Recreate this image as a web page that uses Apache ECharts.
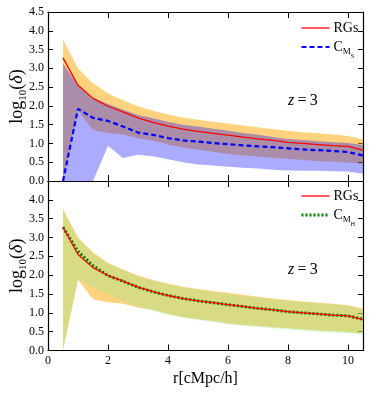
<!DOCTYPE html>
<html>
<head>
<meta charset="utf-8">
<script src="https://cdn.jsdelivr.net/npm/echarts@6/dist/echarts.min.js"></script>
<style>
  html, body { margin: 0; padding: 0; background: #fff; }
  #chart { width: 371px; height: 394px; }
</style>
</head>
<body>
<div id="chart"></div>
<script>
// radius bins, cMpc/h
const rBins = [0.5, 1.0, 1.5, 2.0, 2.5, 3.0, 3.5, 4.0, 4.5, 5.0, 5.5, 6.0, 6.5, 7.0, 7.5, 8.0, 8.5, 9.0, 9.5, 10.0, 10.5];

// RGs: mean and spread
const rgMean  = [3.28, 2.55, 2.20, 1.99, 1.84, 1.68, 1.56, 1.46, 1.38, 1.32, 1.27, 1.22, 1.17, 1.12, 1.08, 1.03, 1.00, 0.97, 0.94, 0.92, 0.82];
const rgUpper = [3.76, 3.00, 2.60, 2.33, 2.15, 1.99, 1.87, 1.77, 1.69, 1.63, 1.58, 1.53, 1.48, 1.43, 1.38, 1.34, 1.30, 1.27, 1.24, 1.20, 1.11];
const rgLower = [0.00, 1.88, 1.36, 1.28, 1.24, 1.14, 1.08, 0.97, 0.89, 0.83, 0.78, 0.72, 0.68, 0.65, 0.62, 0.59, 0.56, 0.53, 0.51, 0.49, 0.45];

// C_MS (top panel)
const msMean  = [0.00, 1.92, 1.68, 1.60, 1.45, 1.29, 1.23, 1.14, 1.08, 1.05, 1.01, 0.98, 0.95, 0.92, 0.90, 0.87, 0.84, 0.82, 0.80, 0.77, 0.68];
const msUpper = [3.12, 2.56, 2.22, 2.05, 1.90, 1.76, 1.67, 1.58, 1.50, 1.45, 1.39, 1.34, 1.28, 1.23, 1.17, 1.12, 1.09, 1.06, 1.03, 1.01, 0.96];
const msLower = [0.00, 0.00, 0.00, 0.94, 0.61, 0.70, 0.66, 0.58, 0.50, 0.44, 0.41, 0.38, 0.35, 0.33, 0.30, 0.28, 0.27, 0.27, 0.26, 0.25, 0.19];

// C_MH (bottom panel)
const mhMean  = [3.27, 2.63, 2.25, 1.99, 1.84, 1.68, 1.56, 1.46, 1.38, 1.32, 1.27, 1.22, 1.17, 1.12, 1.08, 1.03, 1.00, 0.97, 0.94, 0.92, 0.83];
const mhUpper = [3.72, 2.96, 2.57, 2.31, 2.13, 1.97, 1.85, 1.75, 1.67, 1.61, 1.55, 1.50, 1.45, 1.40, 1.36, 1.32, 1.28, 1.25, 1.22, 1.18, 1.09];
const mhLower = [0.00, 1.87, 1.68, 1.50, 1.32, 1.17, 1.05, 0.95, 0.87, 0.81, 0.75, 0.70, 0.66, 0.62, 0.59, 0.56, 0.53, 0.50, 0.48, 0.46, 0.42];

const xTicks = [0, 2, 4, 6, 8, 10];
const yTicks = [0.0, 0.5, 1.0, 1.5, 2.0, 2.5, 3.0, 3.5, 4.0, 4.5];

const FONT = 'Liberation Serif';
const pairs = (ys) => rBins.map((x, i) => [x, ys[i]]);

// shaded band drawn as one polygon through the axes' coord()
function band(lo, hi, color, opacity, gi) {
  return {
    type: 'custom', xAxisIndex: gi * 2, yAxisIndex: gi * 2, silent: true, clip: true,
    data: rBins.map((x, i) => [x, lo[i], hi[i]]),
    encode: { x: 0, y: [1, 2] },
    renderItem: (params, api) => {
      if (params.dataIndex !== 0) return null;
      const top = rBins.map((x, i) => api.coord([x, hi[i]]));
      const bot = rBins.map((x, i) => api.coord([x, lo[i]])).reverse();
      return {
        type: 'polygon',
        shape: { points: top.concat(bot) },
        style: { fill: color, opacity: opacity }
      };
    }
  };
}

function xAx(gi, pos, labels) {
  return {
    type: 'value', gridIndex: gi, position: pos, min: 0, max: 10.5, interval: 2,
    axisLine: { show: true, onZero: false, lineStyle: { color: '#000', width: 1.2 } },
    axisTick: { show: true, inside: true, length: 6, lineStyle: { color: '#000' } },
    axisLabel: {
      show: labels, color: '#000', fontFamily: FONT, fontSize: 12, margin: 4,
      formatter: v => xTicks.includes(v) ? String(v) : ''
    },
    splitLine: { show: false },
    name: labels ? 'r[cMpc/h]' : '', nameLocation: 'middle', nameGap: 20, nameMoveOverlap: false,
    nameTextStyle: { color: '#000', fontFamily: FONT, fontSize: 16 }
  };
}

function yAx(gi, pos, labels, hideTop) {
  return {
    type: 'value', gridIndex: gi, position: pos, min: 0, max: 4.5, interval: 0.5,
    axisLine: { show: true, onZero: false, lineStyle: { color: '#000', width: 1.2 } },
    axisTick: { show: true, inside: true, length: 5, lineStyle: { color: '#000' } },
    axisLabel: {
      show: labels, color: '#000', fontFamily: FONT, fontSize: 12, margin: 4,
      formatter: v => (hideTop && v > 4.4) || !yTicks.includes(v) ? '' : v.toFixed(1)
    },
    splitLine: { show: false },
    name: labels ? '{a|log}{b|10}{a|(}{d|δ}{a|)}' : '', nameLocation: 'middle', nameGap: 22, nameMoveOverlap: false,
    nameTextStyle: {
      color: '#000', fontFamily: FONT,
      rich: {
        a: { fontSize: 18, lineHeight: 18, verticalAlign: 'top', fontFamily: FONT, color: '#000' },
        b: { fontSize: 11, lineHeight: 11, padding: [10, 0, 0, 0], verticalAlign: 'top', fontFamily: FONT, color: '#000' },
        d: { fontSize: 18, lineHeight: 18, verticalAlign: 'top', fontStyle: 'italic', fontFamily: FONT, color: '#000' }
      }
    }
  };
}

// legend keys: short sample line + label, drawn as graphics
const labRich = {
  c: { fontSize: 14, lineHeight: 14, verticalAlign: 'top', fontFamily: FONT, fill: '#000' },
  m: { fontSize: 9, lineHeight: 9, padding: [7, 0, 0, 0], verticalAlign: 'top', fontFamily: FONT, fill: '#000' },
  s: { fontSize: 6, lineHeight: 6, padding: [13, 0, 0, 0], verticalAlign: 'top', fontFamily: FONT, fill: '#000' }
};
function key(y, text, stroke, width, dash) {
  return {
    type: 'group', left: 299, top: y - 8,
    children: [
      { type: 'line', shape: { x1: 0, y1: 8, x2: 28, y2: 8 },
        style: { stroke: stroke, lineWidth: width, lineDash: dash } },
      { type: 'text', x: 32, y: 1, style: { text: text, rich: labRich } }
    ]
  };
}

const zRich = {
  i: { fontSize: 16, fontStyle: 'italic', fontFamily: FONT, fill: '#000' },
  n: { fontSize: 16, fontFamily: FONT, fill: '#000' }
};

const option = {
  animation: false,
  backgroundColor: '#fff',
  grid: [
    { left: 48, top: 12, right: 8, height: 169, containLabel: false, outerBoundsMode: 'none' },
    { left: 48, top: 181, right: 8, height: 169.5, containLabel: false, outerBoundsMode: 'none' }
  ],
  xAxis: [xAx(0, 'bottom', false), xAx(0, 'top', false), xAx(1, 'bottom', true), xAx(1, 'top', false)],
  yAxis: [yAx(0, 'left', true, false), yAx(0, 'right', false, false), yAx(1, 'left', true, true), yAx(1, 'right', false, false)],
  graphic: [
    key(29, '{c|RGs}', '#FF0000', 1.3, null),
    key(48, '{c|C}{m|M}{s|S}', '#0000FF', 2.2, [5, 3]),
    key(197, '{c|RGs}', '#FF0000', 1.3, null),
    key(216, '{c|C}{m|M}{s|H}', '#008000', 3, [2, 2]),
    { type: 'text', left: 288, top: 93, style: { text: '{i|z}{n|\u2009=\u20093}', rich: zRich } },
    { type: 'text', left: 288, top: 262, style: { text: '{i|z}{n|\u2009=\u20093}', rich: zRich } }
  ],
  series: [
    band(rgLower, rgUpper, '#FFA500', 0.5, 0),
    band(msLower, msUpper, '#0000FF', 0.33, 0),
    { type: 'line', name: 'RGs', xAxisIndex: 0, yAxisIndex: 0, data: pairs(rgMean), symbol: 'none',
      lineStyle: { color: '#FF0000', width: 1.3 } },
    { type: 'line', name: 'C_MS', xAxisIndex: 0, yAxisIndex: 0, data: pairs(msMean), symbol: 'none',
      lineStyle: { color: '#0000FF', width: 2.2, type: [5, 3] } },

    band(rgLower, rgUpper, '#FFA500', 0.5, 1),
    band(mhLower, mhUpper, '#90EE90', 0.35, 1),
    { type: 'line', name: 'C_MH', xAxisIndex: 2, yAxisIndex: 2, data: pairs(mhMean), symbol: 'none',
      lineStyle: { color: '#008000', width: 3, type: [2, 2] } },
    { type: 'line', name: 'RGs ', xAxisIndex: 2, yAxisIndex: 2, data: pairs(rgMean), symbol: 'none',
      lineStyle: { color: '#FF0000', width: 1.3 } }
  ]
};

const chart = echarts.init(document.getElementById('chart'), null, { renderer: 'canvas' });
chart.setOption(option);
</script>
</body>
</html>
